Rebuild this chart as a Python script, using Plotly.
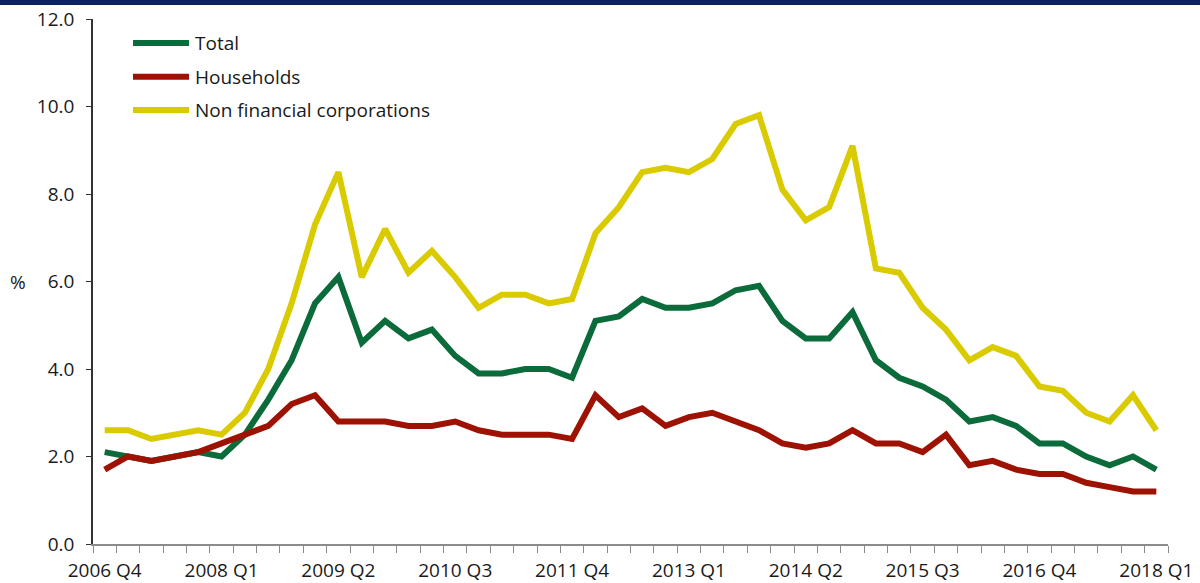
import plotly.graph_objects as go

# Quarterly periods 2006 Q4 .. 2018 Q1
quarters = ["2006 Q4"] + [f"{y} Q{q}" for y in range(2007, 2018) for q in range(1, 5)] + ["2018 Q1"]

total = [2.1, 2.0, 1.9, 2.0, 2.1, 2.0, 2.5, 3.3, 4.2, 5.5, 6.1, 4.6, 5.1, 4.7, 4.9, 4.3,
         3.9, 3.9, 4.0, 4.0, 3.8, 5.1, 5.2, 5.6, 5.4, 5.4, 5.5, 5.8, 5.9, 5.1, 4.7, 4.7,
         5.3, 4.2, 3.8, 3.6, 3.3, 2.8, 2.9, 2.7, 2.3, 2.3, 2.0, 1.8, 2.0, 1.7]
households = [1.7, 2.0, 1.9, 2.0, 2.1, 2.3, 2.5, 2.7, 3.2, 3.4, 2.8, 2.8, 2.8, 2.7, 2.7, 2.8,
              2.6, 2.5, 2.5, 2.5, 2.4, 3.4, 2.9, 3.1, 2.7, 2.9, 3.0, 2.8, 2.6, 2.3, 2.2, 2.3,
              2.6, 2.3, 2.3, 2.1, 2.5, 1.8, 1.9, 1.7, 1.6, 1.6, 1.4, 1.3, 1.2, 1.2]
nfc = [2.6, 2.6, 2.4, 2.5, 2.6, 2.5, 3.0, 4.0, 5.5, 7.3, 8.5, 6.1, 7.2, 6.2, 6.7, 6.1,
       5.4, 5.7, 5.7, 5.5, 5.6, 7.1, 7.7, 8.5, 8.6, 8.5, 8.8, 9.6, 9.8, 8.1, 7.4, 7.7,
       9.1, 6.3, 6.2, 5.4, 4.9, 4.2, 4.5, 4.3, 3.6, 3.5, 3.0, 2.8, 3.4, 2.6]

series_names = ["Total", "Households", "Non financial corporations"]
series_colors = ["#0b6b3a", "#9e1203", "#d9cb00"]
series_values = [total, households, nfc]

tick_labels = [q if i % 5 == 0 else "" for i, q in enumerate(quarters)]

FONT = "Open Sans, Liberation Sans, Arial, sans-serif"
TEXT = "#1a1a1a"
FS = 19

fig = go.Figure()
for name, color, vals in zip(series_names, series_colors, series_values):
    fig.add_trace(go.Scatter(
        x=quarters, y=vals, name=name, mode="lines",
        line=dict(color=color, width=6, shape="linear"),
        showlegend=False,
    ))

# Legend drawn as short strokes with labels in the upper-left corner
legend_y = [11.45, 10.68, 9.92]
for name, color, yy in zip(series_names, series_colors, legend_y):
    fig.add_shape(type="line", xref="paper", yref="y",
                  x0=0.0372, x1=0.0893, y0=yy, y1=yy,
                  line=dict(color=color, width=6))
    fig.add_annotation(xref="paper", yref="y", x=0.093, y=yy, text=name,
                       showarrow=False, xanchor="left", yanchor="middle",
                       font=dict(family=FONT, size=FS, color=TEXT))

# Unit label beside the y axis
fig.add_annotation(xref="paper", yref="y", x=-0.0698, y=6.0, text="%",
                   showarrow=False, xanchor="center", yanchor="middle",
                   font=dict(family=FONT, size=FS, color=TEXT))

# Navy band across the top of the page
fig.add_shape(type="rect", xref="paper", yref="paper",
              x0=-0.1, x1=1.1, y0=(544 - 5) / 525, y1=1.2,
              fillcolor="#0b2260", line=dict(width=0), layer="above")

fig.update_layout(
    width=1200, height=583,
    margin=dict(l=93, r=32, t=19, b=39, autoexpand=False),
    paper_bgcolor="white", plot_bgcolor="white",
    font=dict(family=FONT, size=FS, color=TEXT),
)
fig.update_xaxes(
    type="category", tickmode="array", tickvals=quarters, ticktext=tick_labels,
    range=[-0.5, len(quarters) - 0.5],
    tickson="boundaries", ticks="outside", ticklen=7, tickcolor="#8c8c8c",
    showline=True, linecolor="#8c8c8c", linewidth=1.5,
    showgrid=False, zeroline=False, tickangle=0, automargin=False,
    ticklabelstandoff=8,
    tickfont=dict(family=FONT, size=FS, color=TEXT),
)
fig.update_yaxes(
    range=[0, 12], dtick=2, tickformat=".1f",
    ticks="outside", ticklen=5, tickcolor="#333333",
    showline=True, linecolor="#333333", linewidth=1.5,
    showgrid=False, zeroline=False, automargin=False,
    ticklabelstandoff=8,
    tickfont=dict(family=FONT, size=FS, color=TEXT),
)

fig.write_html("out.html")
